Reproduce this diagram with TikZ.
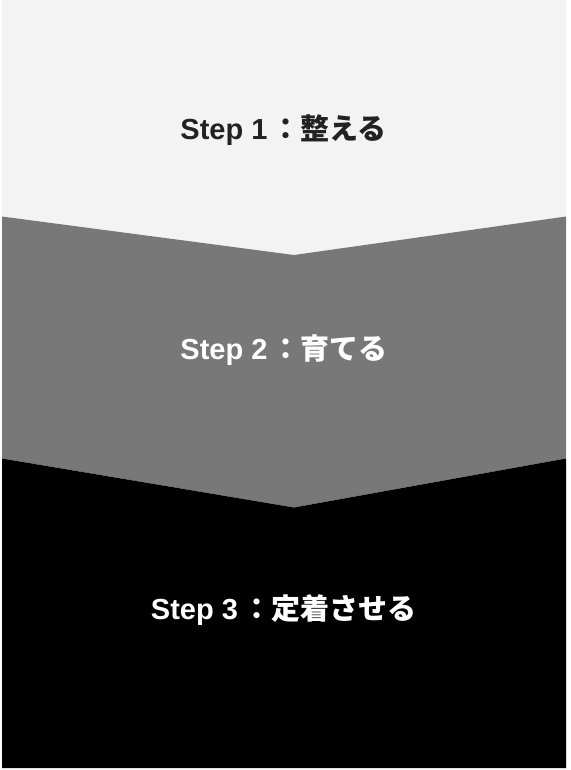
\documentclass[tikz,border=0pt]{standalone}
\usepackage{fontspec}
\setmainfont{Liberation Sans}
\newfontfamily\cjk{Noto Sans CJK JP}
\definecolor{lightband}{HTML}{F3F3F3}
\definecolor{midband}{HTML}{787878}
\definecolor{darktext}{HTML}{222222}
\tikzstyle{steplabel}=[font=\fontsize{29}{31}\selectfont\bfseries,inner sep=0pt]
\newcommand{\jp}[1]{{\cjk\hspace{4pt}：#1}}

\begin{document}
\begin{tikzpicture}[x=1pt,y=-1pt]
			\useasboundingbox[fill=white] (0,0) rectangle (570,770);
			\fill[lightband] (2,0) -- (566,0) -- (566,216.5) -- (294,255) -- (2,216.5) -- cycle;
			\fill[midband] (2,216.5) -- (294,255) -- (566,216.5) -- (566,458.5) -- (294,507.5) -- (2,458.5) -- cycle;
			\fill[black] (2,458.5) -- (294,507.5) -- (566,458.5) -- (566,768) -- (2,768) -- cycle;
			
			\node (s1) at (283.5,130) [steplabel,darktext] {Step 1\jp{整える}};
			\node (s2) at (284,350) [steplabel,white] {Step 2\jp{育てる}};
			\node (s3) at (283.5,610) [steplabel,white] {Step 3\jp{定着させる}};
		\end{tikzpicture}
\end{document}
